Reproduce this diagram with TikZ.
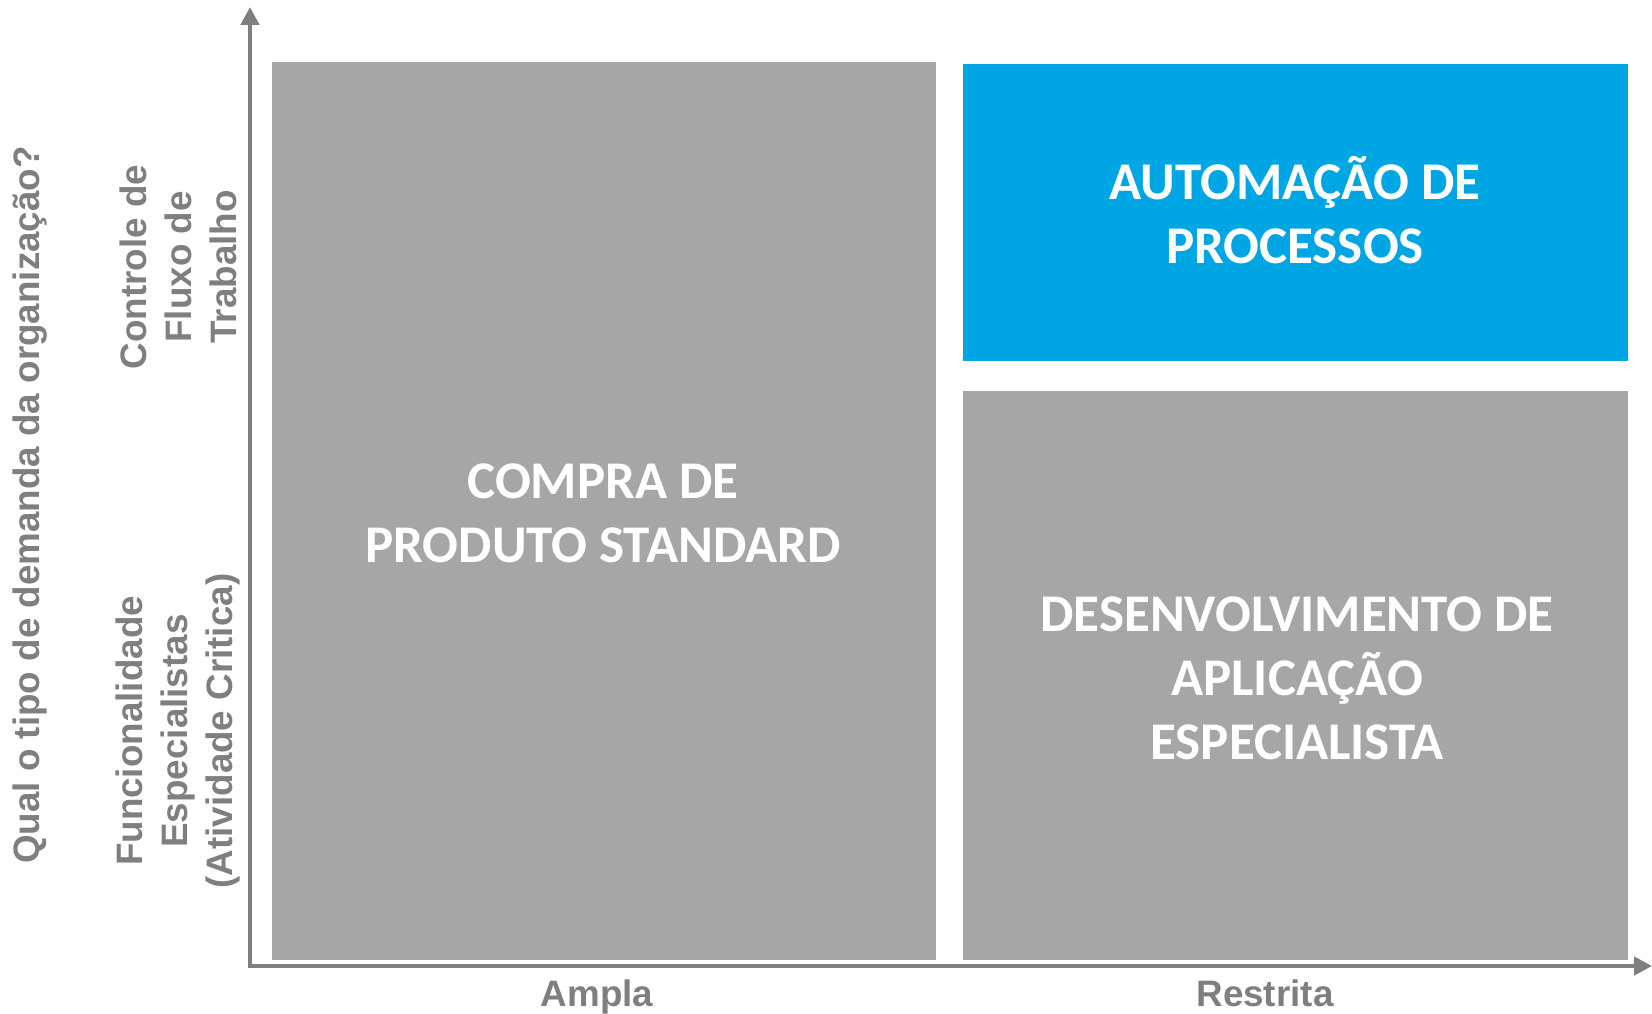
\documentclass[tikz,border=0pt]{standalone}
\usepackage{fontspec}
\setmainfont{Liberation Sans}
\newfontfamily\boxfont{Carlito}
\usetikzlibrary{positioning}
\usetikzlibrary{arrows.meta}
\definecolor{boxgray}{HTML}{A6A6A6}
\definecolor{boxblue}{HTML}{00A6E3}
\definecolor{axisgray}{HTML}{7F7F7F}
\tikzset{
  quad/.style={rectangle,inner sep=0pt,fill=boxgray},
  quadtext/.style={align=center,text=white,font=\boxfont\bfseries\fontsize{53}{64}\selectfont},
  axislabel/.style={text=axisgray,font=\bfseries\fontsize{36.8}{45}\selectfont},
  axisline/.style={draw=axisgray,line width=4.5pt,line join=miter}
}
\begin{document}
\begin{tikzpicture}[x=1pt,y=-1pt]
		\useasboundingbox (0,0) rectangle (1652,1014);
		% quadrants
		\node (compra) [quad,minimum width=664pt,minimum height=898pt] at (604,511) {};
		\node (autom)  [quad,fill=boxblue,minimum width=665pt,minimum height=297pt] at (1295.5,212.5) {};
		\node (desenv) [quad,minimum width=665pt,minimum height=569pt] at (1295.5,675.5) {};
		\node (compratxt) [quadtext] at (603,513) {COMPRA DE\\PRODUTO STANDARD};
		\node (automtxt)  [quadtext] at (1295,210) {AUTOMAÇÃO DE\\PROCESSOS};
		\node (desenvtxt) [quadtext] at (1297,678) {DESENVOLVIMENTO DE\\APLICAÇÃO\\ESPECIALISTA};
		% axes
		\coordinate (origin) at (250,966);
		\coordinate (ytip) at (250,7);
		\coordinate (xtip) at (1652,966);
		\draw [axisline,{Triangle[width=18pt,length=18pt]}-{Triangle[width=18pt,length=18pt]}] (ytip) -- (origin) -- (xtip);
		\node (ampla)    [axislabel,anchor=base] at (597,1006) {Ampla};
		\node (restrita) [axislabel,anchor=base] at (1265,1006) {Restrita};
		\node (pergunta) [axislabel,rotate=90] at (30,505) {Qual o tipo de demanda da organização?};
		\node (fluxo)    [axislabel,rotate=90,align=center] at (178,267) {Controle de\\Fluxo de\\Trabalho};
		\node (especial) [axislabel,rotate=90,align=center] at (178,731) {Funcionalidade\\Especialistas\\(Atividade Critica)};
	\end{tikzpicture}
\end{document}
